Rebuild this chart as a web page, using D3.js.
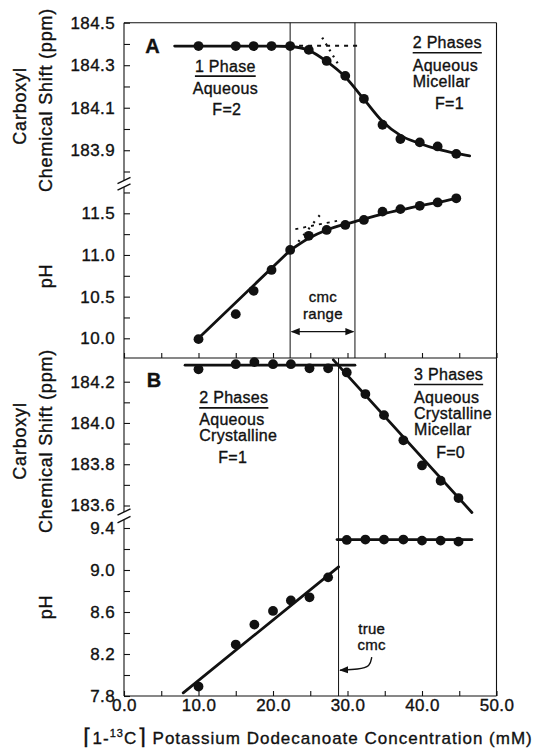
<!DOCTYPE html>
<html lang="en">
<head>
<meta charset="UTF-8">
<title>Carboxyl shift and pH vs concentration</title>
<script src="https://d3js.org/d3.v7.min.js"></script>
<style>
  body { margin: 0; background: #fff; }
  svg text { font-family: "Liberation Sans", Arial, Helvetica, sans-serif; fill: #111;
             stroke: #111; stroke-width: 0.35px; }
</style>
</head>
<body>
<div id="chart"></div>
<script>
// ---- data ----
// panel A: concentration (mM), carboxyl shift (ppm), pH
const concA  = [10.0, 15.0, 17.4, 19.8, 22.3, 24.8, 27.2, 29.7, 32.2, 34.7, 37.1, 39.7, 42.1, 44.6];
const shiftA = [184.39, 184.39, 184.39, 184.39, 184.39, 184.372, 184.32, 184.25, 184.142, 184.02, 183.953, 183.937, 183.918, 183.883];
const phA    = [9.99, 10.29, 10.57, 10.82, 11.06, 11.23, 11.30, 11.36, 11.42, 11.52, 11.55, 11.59, 11.63, 11.68];

// panel B
const concB  = [10.0, 15.0, 17.5, 20.0, 22.4, 24.9, 27.4, 29.9, 32.4, 34.9, 37.5, 40.0, 42.5, 44.9];
const shiftB = [184.26, 184.285, 184.295, 184.285, 184.285, 184.265, 184.265, 184.245, 184.14, 184.038, 183.916, 183.794, 183.72, 183.636];
const phB    = [7.89, 8.29, 8.48, 8.61, 8.71, 8.74, 8.93, 9.286, 9.29, 9.29, 9.29, 9.28, 9.28, 9.27];

// drawn (fitted) curves
const fitShiftA = [[6.8, 184.39], [20, 184.39], [22.3, 184.388], [24.8, 184.37], [27.2, 184.318], [29.7, 184.245],
                   [32.2, 184.14], [34.7, 184.035], [37.1, 183.97], [39.7, 183.932], [42.1, 183.905], [44.6, 183.885], [46.4, 183.874]];
const fitPhALow = [[10.0, 10.0], [22.3, 11.055]];
const fitPhAHigh = [[22.3, 11.055], [24.8, 11.2], [27.2, 11.30], [29.7, 11.37], [31.0, 11.40], [32.2, 11.43],
                    [34.7, 11.49], [37.1, 11.54], [39.7, 11.59], [42.1, 11.63], [44.6, 11.68]];
const fitShiftB1 = [[8.2, 184.28], [31.0, 184.28]];
const fitShiftB2 = [[28.1, 184.306], [46.7, 183.566]];
const fitPhB1 = [[7.95, 7.83], [28.8, 9.03]];
const fitPhB2 = [[28.6, 9.29], [46.7, 9.29]];

// extrapolation guides (panel A)
const dashShiftA = [[23.5, 184.392], [31.4, 184.392]];
const dotShiftA  = [[26.6, 184.43], [29.0, 184.29]];
const dashPhA    = [[23.0, 11.31], [28.6, 11.41]];
const dotPhA     = [[23.4, 11.16], [26.3, 11.48]];

// phase boundaries (mM)
const cmcRangeA = [22.3, 31.0];
const trueCmcB = 28.8;

// axis ticks
const xTicks = d3.range(0, 50.01, 5);
const shiftATicks = d3.range(183.8, 184.51, 0.1);
const shiftALabels = [184.5, 184.3, 184.1, 183.9];
const phATicks = d3.range(10.0, 11.76, 0.25);
const phALabels = [10.0, 10.5, 11.0, 11.5];
const shiftBTicks = d3.range(183.6, 184.21, 0.1);
const shiftBLabels = [184.2, 184.0, 183.8, 183.6];
const phBTicks = d3.range(7.8, 9.41, 0.2);
const phBLabels = [9.4, 9.0, 8.6, 8.2, 7.8];

// ---- layout ----
const W = 533, H = 748;
const plotL = 124, plotR = 496.5;
const plotT = 22.7, plotM = 358, plotB = 696;
const ink = "#111";

const x = d3.scaleLinear().domain([0, 50]).range([plotL, plotR]);
const yShA = d3.scaleLinear().domain([183.8, 184.5]).range([171.5, plotT]);
const yPhA = d3.scaleLinear().domain([10.0, 11.5]).range([338.3, 213.3]);
const yShB = d3.scaleLinear().domain([183.6, 184.2]).range([505.5, 381.7]);
const yPhB = d3.scaleLinear().domain([7.8, 9.4]).range([plotB, 528]);

const svg = d3.select("#chart").append("svg")
    .attr("width", W).attr("height", H);
svg.append("rect").attr("width", W).attr("height", H).attr("fill", "#fff");

// frame
const frame = svg.append("g").attr("stroke", ink).attr("stroke-width", 1.1).attr("fill", "none");
frame.append("line").attr("x1", plotL).attr("x2", plotR).attr("y1", plotT).attr("y2", plotT);
frame.append("line").attr("x1", plotL).attr("x2", plotR).attr("y1", plotM).attr("y2", plotM);
frame.append("line").attr("x1", plotL).attr("x2", plotR).attr("y1", plotB).attr("y2", plotB);
frame.append("line").attr("x1", plotR).attr("x2", plotR).attr("y1", plotT).attr("y2", plotB);
// left axis with breaks
[[plotT, 180.5], [187, plotM], [plotM, 512], [519.6, plotB]].forEach(([a, b]) => {
    frame.append("line").attr("x1", plotL).attr("x2", plotL).attr("y1", a).attr("y2", b);
});
[180.5, 187, 512, 519.6].forEach(yb => {
    frame.append("line").attr("stroke-width", 1.4)
        .attr("x1", plotL - 6.5).attr("y1", yb + 3.2)
        .attr("x2", plotL + 6.5).attr("y2", yb - 3.2);
});

// y axes (ticks point inward)
function yAxis(scale, ticks, labels) {
    const fmt = d3.format(".1f");
    const g = svg.append("g").attr("transform", `translate(${plotL},0)`)
        .call(d3.axisLeft(scale).tickValues(ticks).tickSize(-6).tickPadding(9)
            .tickFormat(d => labels.some(l => Math.abs(l - d) < 1e-6) ? fmt(d) : ""));
    g.select(".domain").remove();
    g.selectAll(".tick line").attr("stroke", ink).attr("stroke-width", 1.1);
    g.selectAll(".tick text").attr("font-size", 17).attr("letter-spacing", 0.4)
        .attr("font-family", null).attr("fill", ink);
}
yAxis(yShA, shiftATicks, shiftALabels);
yAxis(yPhA, phATicks, phALabels);
yAxis(yShB, shiftBTicks, shiftBLabels);
yAxis(yPhB, phBTicks, phBLabels);

// x axes
function xAxis(yPos, withLabels) {
    const g = svg.append("g").attr("transform", `translate(0,${yPos})`)
        .call(d3.axisBottom(x).tickValues(xTicks).tickSize(-5).tickPadding(3)
            .tickFormat(d => withLabels && d % 10 === 0 ? d3.format(".1f")(d) : ""));
    g.select(".domain").remove();
    g.selectAll(".tick line").attr("stroke", ink).attr("stroke-width", 1.1);
    g.selectAll(".tick text").attr("font-size", 17).attr("letter-spacing", 0.4)
        .attr("font-family", null).attr("fill", ink);
}
xAxis(plotM, false);
xAxis(plotB, true);

// phase boundary lines
const vlines = svg.append("g").attr("stroke", ink).attr("stroke-width", 1);
cmcRangeA.forEach(c => vlines.append("line")
    .attr("x1", x(c)).attr("x2", x(c)).attr("y1", plotT).attr("y2", plotM));
vlines.append("line").attr("x1", x(trueCmcB)).attr("x2", x(trueCmcB)).attr("y1", plotM).attr("y2", plotB);

// curves
function curve(pts, ys, smooth, dash, width) {
    const line = d3.line().x(d => x(d[0])).y(d => ys(d[1]))
        .curve(smooth ? d3.curveMonotoneX : d3.curveLinear);
    svg.append("path").datum(pts).attr("d", line)
        .attr("fill", "none").attr("stroke", ink)
        .attr("stroke-width", width || 2.8)
        .attr("stroke-dasharray", dash || null)
        .attr("stroke-linecap", dash ? "butt" : "round");
}
curve(fitShiftA, yShA, true);
curve(fitPhALow, yPhA);
curve(fitPhAHigh, yPhA, true);
curve(fitShiftB1, yShB);
curve(fitShiftB2, yShB);
curve(fitPhB1, yPhB);
curve(fitPhB2, yPhB);
curve(dashShiftA, yShA, false, "4 5", 2);
curve(dotShiftA, yShA, false, "2 5", 2.2);
curve(dashPhA, yPhA, false, "3 5", 1.8);
curve(dotPhA, yPhA, false, "2 6", 2.2);

// points
function dots(xs, vs, ys) {
    svg.append("g").selectAll("circle").data(xs).join("circle")
        .attr("cx", d => x(d)).attr("cy", (d, i) => ys(vs[i]))
        .attr("r", 4.9).attr("fill", ink);
}
dots(concA, shiftA, yShA);
dots(concA, phA, yPhA);
dots(concB, shiftB, yShB);
dots(concB, phB, yPhB);

// ---- annotation text ----
function txt(s, xv, yv, ys, opts = {}) {
    const t = svg.append("text")
        .attr("x", x(xv)).attr("y", ys(yv))
        .attr("font-size", opts.size || 16)
        .attr("font-weight", opts.bold ? "bold" : null)
        .attr("letter-spacing", opts.ls == null ? 0.3 : opts.ls)
        .attr("text-anchor", opts.anchor || "start")
        .text(s);
    if (opts.underline) {
        const bb = t.node().getBBox();
        svg.append("line").attr("stroke", ink).attr("stroke-width", 1.6)
            .attr("x1", bb.x).attr("x2", bb.x + bb.width)
            .attr("y1", ys(yv) + 4.5).attr("y2", ys(yv) + 4.5);
    }
    return t;
}
txt("A", 3.85, 184.357, yShA, {size: 20, bold: true, anchor: "middle"});
txt("1 Phase", 13.6, 184.27, yShA, {anchor: "middle", underline: true});
txt("Aqueous", 13.6, 184.165, yShA, {anchor: "middle"});
txt("F=2", 13.8, 184.066, yShA, {anchor: "middle"});
txt("2 Phases", 38.75, 184.38, yShA, {underline: true});
txt("Aqueous", 38.75, 184.274, yShA);
txt("Micellar", 38.75, 184.196, yShA);
txt("F=1", 41.75, 184.094, yShA);

txt("cmc", 26.7, 10.435, yPhA, {anchor: "middle", size: 15});
txt("range", 26.7, 10.23, yPhA, {anchor: "middle", size: 15});

txt("B", 4.03, 184.174, yShB, {size: 20, bold: true, anchor: "middle"});
txt("2 Phases", 10.1, 184.095, yShB, {underline: true});
txt("Aqueous", 10.1, 183.99, yShB);
txt("Crystalline", 10.1, 183.913, yShB);
txt("F=1", 14.6, 183.804, yShB, {anchor: "middle"});
txt("3 Phases", 38.93, 184.208, yShB, {underline: true});
txt("Aqueous", 38.93, 184.095, yShB);
txt("Crystalline", 38.93, 184.018, yShB);
txt("Micellar", 38.93, 183.942, yShB);
txt("F=0", 41.9, 183.829, yShB);

txt("true", 33.25, 8.395, yPhB, {anchor: "middle", size: 15});
txt("cmc", 33.25, 8.235, yPhB, {anchor: "middle", size: 15});

// arrows
const defs = svg.append("defs");
defs.append("marker").attr("id", "ah").attr("viewBox", "0 0 10 10")
    .attr("refX", 9).attr("refY", 5).attr("markerWidth", 9).attr("markerHeight", 9)
    .attr("markerUnits", "userSpaceOnUse").attr("orient", "auto-start-reverse")
    .append("path").attr("d", "M0,1 L10,5 L0,9 Z").attr("fill", ink);

const cmcY = yPhA(10.08);
svg.append("line")
    .attr("x1", x(cmcRangeA[0]) + 1.5).attr("x2", x(cmcRangeA[1]) - 1.5)
    .attr("y1", cmcY).attr("y2", cmcY)
    .attr("stroke", ink).attr("stroke-width", 1.4)
    .attr("marker-start", "url(#ah)").attr("marker-end", "url(#ah)");

const trueArrow = [[33.25, 8.17], [33.05, 8.08], [31.5, 8.055], [29.0, 8.045]];
svg.append("path")
    .datum(trueArrow)
    .attr("d", d3.line().x(d => x(d[0])).y(d => yPhB(d[1])).curve(d3.curveBasis))
    .attr("fill", "none").attr("stroke", ink).attr("stroke-width", 1.4)
    .attr("marker-end", "url(#ah)");

// ---- axis titles ----
function ytitle(s, xp, yp) {
    svg.append("text")
        .attr("transform", `translate(${xp},${yp}) rotate(-90)`)
        .attr("text-anchor", "middle").attr("dy", "0.35em")
        .attr("font-size", 18).attr("letter-spacing", 0.8)
        .text(s);
}
ytitle("Carboxyl", 20, 106);
ytitle("Chemical Shift (ppm)", 46, 100);
ytitle("pH", 46, 276);
ytitle("Carboxyl", 20, 441);
ytitle("Chemical Shift (ppm)", 46, 441);
ytitle("pH", 46, 607);

const xt = svg.append("text").attr("x", 83).attr("y", 744)
    .attr("font-size", 17).attr("letter-spacing", 1);
xt.append("tspan").attr("font-size", 22).attr("font-family", "DejaVu Sans").text("\u2308");
xt.append("tspan").text("1-");
xt.append("tspan").attr("font-size", 11).attr("dy", -7).text("13");
xt.append("tspan").attr("dy", 7).text("C");
xt.append("tspan").attr("font-size", 22).attr("font-family", "DejaVu Sans").text("\u2309");
xt.append("tspan").text(" Potassium Dodecanoate Concentration (mM)");
</script>
</body>
</html>
